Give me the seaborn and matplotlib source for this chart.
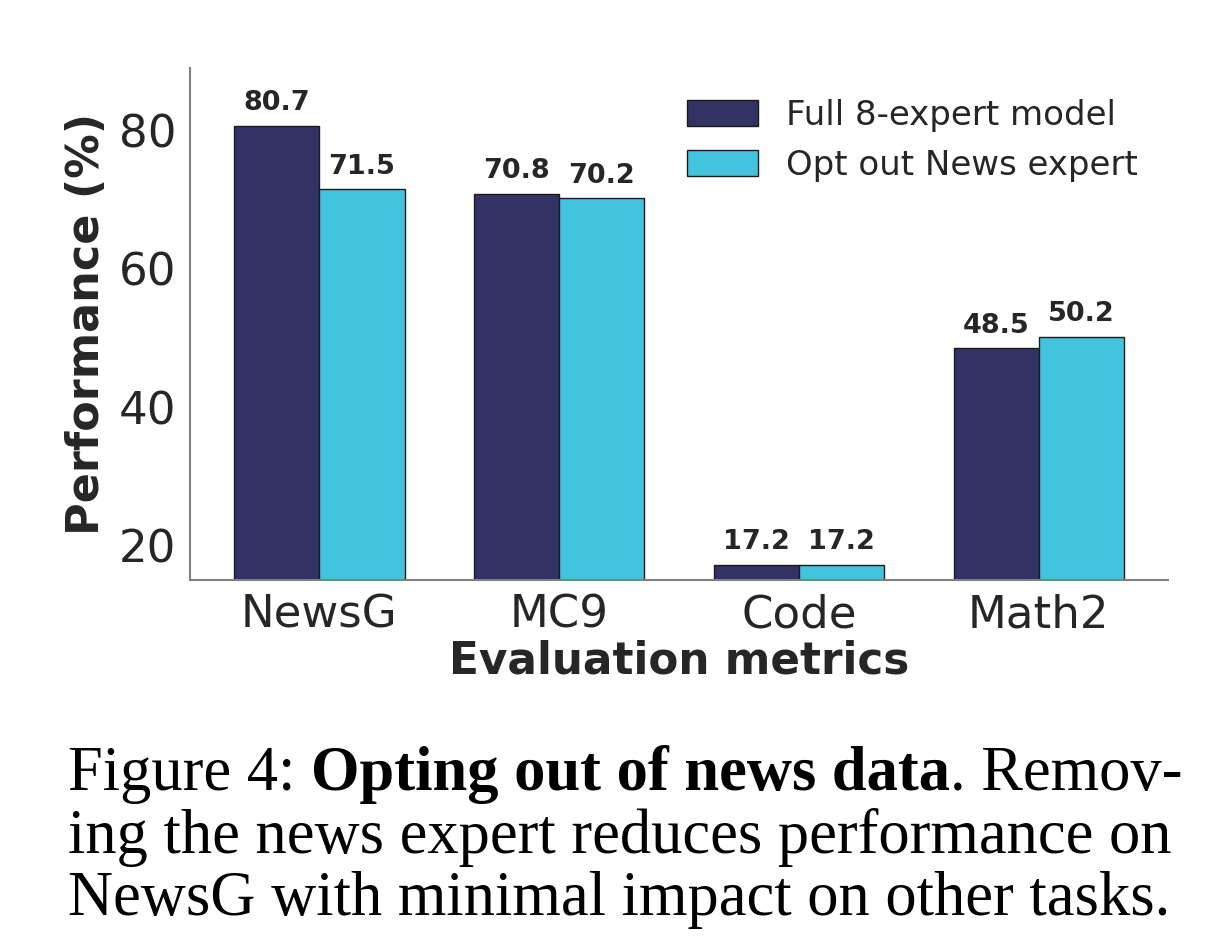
import pandas as pd
import matplotlib.pyplot as plt
import seaborn as sns

# values
metrics = ["NewsG", "MC9", "Code", "Math2"]
full_model = [80.7, 70.8, 17.2, 48.5]
opt_out = [71.5, 70.2, 17.2, 50.2]
models = ["Full 8-expert model", "Opt out News expert"]
colors = ["#333363", "#42c4de"]

df = pd.DataFrame({
    "metric": metrics * 2,
    "score": full_model + opt_out,
    "model": [models[0]] * 4 + [models[1]] * 4,
})

sns.set_theme(style="white")
plt.rcParams["font.family"] = ["DejaVu Sans"]

fig = plt.figure(figsize=(12.18, 9.49), dpi=100)
ax = fig.add_axes([0.156, 0.389, 0.803, 0.539])

sns.barplot(data=df, x="metric", y="score", hue="model", palette=colors,
            saturation=1, width=0.71, edgecolor="#1a1a1a", linewidth=1.0, ax=ax)

for cont in ax.containers:
    ax.bar_label(cont, fmt="%.1f", fontsize=19.5, fontweight="bold",
                 color="#262626", padding=7)

ax.set_ylim(15, 89)
ax.set_xlim(-0.54, 3.54)
ax.set_yticks([20, 40, 60, 80])
ax.tick_params(axis="both", labelsize=32.5, length=0, colors="#262626")
ax.tick_params(axis="y", pad=10)
ax.tick_params(axis="x", pad=10)
ax.set_ylabel("Performance (%)", fontsize=32, fontweight="bold", color="#262626", labelpad=8)
ax.set_xlabel("Evaluation metrics", fontsize=31.5, fontweight="bold", color="#262626", labelpad=2)

sns.despine(ax=ax)
for s in ["left", "bottom"]:
    ax.spines[s].set_color("#808080")
    ax.spines[s].set_linewidth(1.5)

ax.legend(frameon=False, fontsize=24.5, loc="upper right", bbox_to_anchor=(1.0, 1.0),
          handlelength=2.1, handleheight=0.8, handletextpad=0.8, labelspacing=0.5)

# caption below the chart
serif = ["Liberation Serif", "DejaVu Serif"]
cap_size = 45
fig.canvas.draw()
renderer = fig.canvas.get_renderer()
x0 = 68 / 1218
y_lines = [1 - 790 / 949, 1 - 853 / 949, 1 - 915 / 949]
x = x0
for piece, weight in [("Figure 4: ", "normal"), ("Opting out of news data", "bold"), (". Remov-", "normal")]:
    t = fig.text(x, y_lines[0], piece, fontsize=cap_size, fontweight=weight,
                 family=serif, color="black", va="baseline")
    bb = t.get_window_extent(renderer)
    x += bb.width / fig.bbox.width
fig.text(x0, y_lines[1], "ing the news expert reduces performance on", fontsize=cap_size,
         family=serif, color="black", va="baseline")
fig.text(x0, y_lines[2], "NewsG with minimal impact on other tasks.", fontsize=cap_size,
         family=serif, color="black", va="baseline")

fig.savefig("out.png", dpi=100)
